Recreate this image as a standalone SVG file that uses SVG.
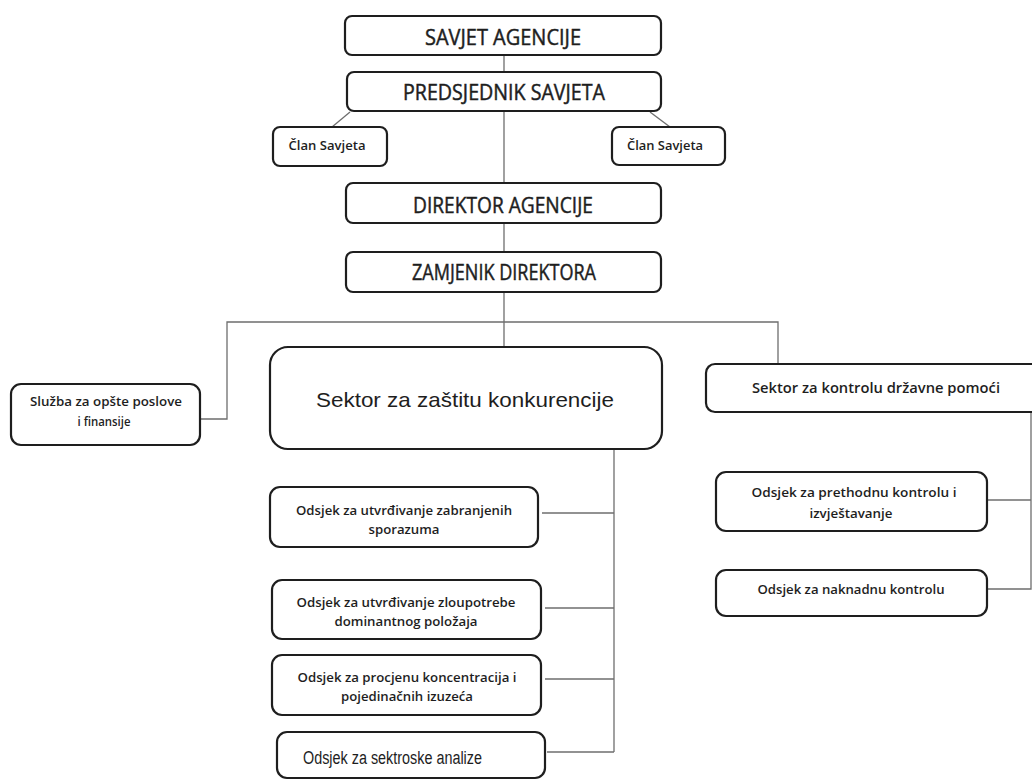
<svg xmlns="http://www.w3.org/2000/svg" width="1032" height="783" viewBox="0 0 1032 783">
<style>
.box{fill:#fff;stroke:#1e1e1e;stroke-width:2.2}
.con{fill:none;stroke:#6e6e6e;stroke-width:1.3}
.t{font-family:"Open Sans","Liberation Sans",sans-serif;fill:#1e1e1e;text-anchor:middle}
.title{font-size:21px;font-weight:400;stroke:#1e1e1e;stroke-width:0.45}
.sm{font-size:12.5px;font-weight:600}
.ar{font-family:"Liberation Sans",Arial,sans-serif;fill:#1e1e1e}
</style>
<rect width="1032" height="783" fill="#fff"/>
<g id="connectors">
<line class="con" x1="504" y1="55" x2="504" y2="347"/>
<line class="con" x1="350" y1="112" x2="332" y2="127"/>
<line class="con" x1="650" y1="112" x2="670" y2="127"/>
<polyline class="con" points="200,419 227,419 227,322 778,322 778,364"/>
<line class="con" x1="614" y1="448" x2="614" y2="752"/>
<line class="con" x1="542" y1="513" x2="614" y2="513"/>
<line class="con" x1="545" y1="608" x2="614" y2="608"/>
<line class="con" x1="545" y1="679" x2="614" y2="679"/>
<line class="con" x1="547" y1="752" x2="614" y2="752"/>
<polyline class="con" points="1031,412 1031,589 988,589"/>
<line class="con" x1="988" y1="500" x2="1031" y2="500"/>
</g>
<g id="savjet-agencije">
<rect class="box" x="345" y="16" width="316" height="39" rx="7"/>
<text class="t title" x="503" y="45" textLength="156" lengthAdjust="spacingAndGlyphs">SAVJET AGENCIJE</text>
</g>
<g id="predsjednik-savjeta">
<rect class="box" x="347" y="72" width="314" height="39" rx="7"/>
<text class="t title" x="504" y="100" textLength="202" lengthAdjust="spacingAndGlyphs">PREDSJEDNIK SAVJETA</text>
</g>
<g id="clan-savjeta-1">
<rect class="box" x="273" y="127" width="114" height="39" rx="7"/>
<text class="t sm" x="327" y="150" textLength="77" lengthAdjust="spacingAndGlyphs">Član Savjeta</text>
</g>
<g id="clan-savjeta-2">
<rect class="box" x="612" y="127" width="113" height="38" rx="7"/>
<text class="t sm" x="665" y="150" textLength="76" lengthAdjust="spacingAndGlyphs">Član Savjeta</text>
</g>
<g id="direktor-agencije">
<rect class="box" x="346" y="183" width="315" height="40" rx="7"/>
<text class="t title" x="503" y="213" textLength="180" lengthAdjust="spacingAndGlyphs">DIREKTOR AGENCIJE</text>
</g>
<g id="zamjenik-direktora">
<rect class="box" x="346" y="252" width="315" height="40" rx="7"/>
<text class="t title" x="504" y="280" textLength="184" lengthAdjust="spacingAndGlyphs">ZAMJENIK DIREKTORA</text>
</g>
<g id="sluzba">
<rect class="box" x="11" y="384" width="189" height="61" rx="10"/>
<text class="t sm" x="106" y="406" textLength="152" lengthAdjust="spacingAndGlyphs">Služba za opšte poslove</text>
<text class="t sm" x="104" y="426" textLength="53" lengthAdjust="spacingAndGlyphs">i finansije</text>
</g>
<g id="sektor-zastita">
<rect class="box" x="270" y="347" width="392" height="102" rx="18"/>
<text class="ar" x="465" y="407" font-size="21" text-anchor="middle" textLength="298" lengthAdjust="spacingAndGlyphs">Sektor za zaštitu konkurencije</text>
</g>
<g id="sektor-kontrola">
<rect class="box" x="706" y="364" width="340" height="48" rx="9"/>
<text class="t" x="876" y="393" font-size="13.5" font-weight="600" textLength="248" lengthAdjust="spacingAndGlyphs">Sektor za kontrolu državne pomoći</text>
</g>
<g id="odsjek-zabranjeni">
<rect class="box" x="270" y="487" width="268" height="60" rx="10"/>
<text class="t sm" x="404" y="515" textLength="216" lengthAdjust="spacingAndGlyphs">Odsjek za utvrđivanje zabranjenih</text>
<text class="t sm" x="404" y="534" textLength="71" lengthAdjust="spacingAndGlyphs">sporazuma</text>
</g>
<g id="odsjek-zloupotreba">
<rect class="box" x="272" y="580" width="269" height="59" rx="10"/>
<text class="t sm" x="406" y="607" textLength="219" lengthAdjust="spacingAndGlyphs">Odsjek za utvrđivanje zloupotrebe</text>
<text class="t sm" x="406" y="626" textLength="143" lengthAdjust="spacingAndGlyphs">dominantnog položaja</text>
</g>
<g id="odsjek-koncentracija">
<rect class="box" x="272" y="655" width="269" height="60" rx="10"/>
<text class="t sm" x="407" y="682" textLength="219" lengthAdjust="spacingAndGlyphs">Odsjek za procjenu koncentracija i</text>
<text class="t sm" x="407" y="701" textLength="132" lengthAdjust="spacingAndGlyphs">pojedinačnih izuzeća</text>
</g>
<g id="odsjek-sektorske">
<rect class="box" x="277" y="732" width="268" height="46" rx="10"/>
<text class="ar" x="303" y="764" font-size="18" textLength="179" lengthAdjust="spacingAndGlyphs">Odsjek za sektroske analize</text>
</g>
<g id="odsjek-prethodna">
<rect class="box" x="716" y="472" width="271" height="59" rx="10"/>
<text class="t sm" x="854" y="497" textLength="205" lengthAdjust="spacingAndGlyphs">Odsjek za prethodnu kontrolu i</text>
<text class="t sm" x="851" y="518" textLength="83" lengthAdjust="spacingAndGlyphs">izvještavanje</text>
</g>
<g id="odsjek-naknadna">
<rect class="box" x="716" y="570" width="271" height="46" rx="10"/>
<text class="t sm" x="851" y="594" textLength="187" lengthAdjust="spacingAndGlyphs">Odsjek za naknadnu kontrolu</text>
</g>
</svg>
